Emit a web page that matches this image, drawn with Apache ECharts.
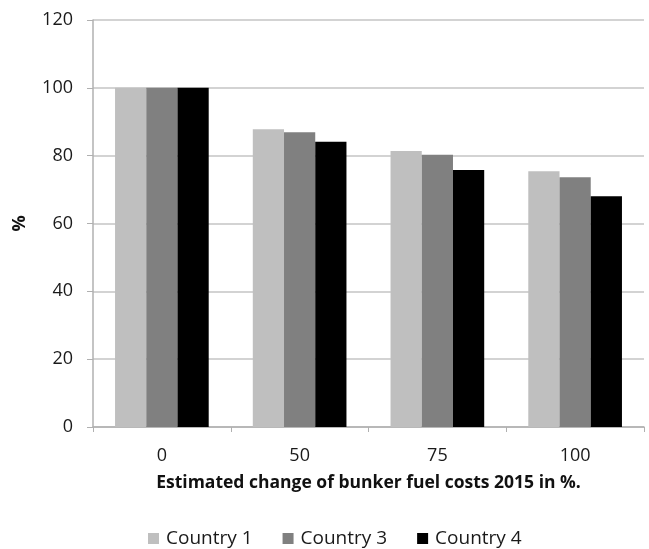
<!DOCTYPE html>
<html><head><meta charset="utf-8">
<script src="https://cdn.jsdelivr.net/npm/echarts@6/dist/echarts.min.js"></script>
<style>html,body{margin:0;padding:0;background:#fff}#c{width:649px;height:549px}</style>
</head><body><div id="c"></div>
<script>
const categories = ['0', '50', '75', '100'];
const country1 = [100, 87.8, 81.4, 75.4];
const country3 = [100, 86.9, 80.3, 73.6];
const country4 = [100, 84.1, 75.8, 68.0];
const seriesNames = ['Country 1', 'Country 3', 'Country 4'];
const colors = ['#bfbfbf', '#808080', '#000000'];
const font = '"Open Sans", sans-serif';
const chart = echarts.init(document.getElementById('c'), null, {renderer: 'canvas'});
const data = [country1, country3, country4];
chart.setOption({
  animation: false,
  textStyle: {fontFamily: font},
  grid: {left: 93, right: 5, top: 20, bottom: 122},
  legend: {
    top: 524, left: 143, itemWidth: 11, itemHeight: 11, itemGap: 30,
    icon: 'rect',
    textStyle: {fontFamily: font, fontSize: 19, color: '#1a1a1a', padding: [0, 0, 0, 2]},
    data: seriesNames
  },
  xAxis: {
    type: 'category', data: categories,
    name: 'Estimated change of bunker fuel costs 2015 in %.',
    nameLocation: 'middle', nameGap: 47,
    nameTextStyle: {fontFamily: font, fontSize: 17.5, fontWeight: 'bold', color: '#111'},
    axisLine: {lineStyle: {color: '#b0b0b0', width: 1.5}},
    axisTick: {show: true, length: 5, lineStyle: {color: '#b0b0b0'}},
    axisLabel: {fontFamily: font, fontSize: 18, color: '#1a1a1a', margin: 20}
  },
  yAxis: {
    type: 'value', min: 0, max: 120, interval: 20,
    name: '%', nameLocation: 'middle', nameGap: 64, nameRotate: 90,
    nameTextStyle: {fontFamily: font, fontSize: 18, fontWeight: 'bold', color: '#111'},
    axisLine: {show: true, lineStyle: {color: '#b0b0b0', width: 1.5}},
    axisTick: {show: true, length: 6, lineStyle: {color: '#b0b0b0'}},
    axisLabel: {fontFamily: font, fontSize: 18, color: '#1a1a1a', margin: 20},
    splitLine: {lineStyle: {color: '#c4c4c4', width: 1.5}}
  },
  series: seriesNames.map((n, i) => ({
    name: n, type: 'bar', data: data[i],
    barGap: '0%', barCategoryGap: '32%',
    itemStyle: {color: colors[i]}
  }))
});
</script></body></html>
